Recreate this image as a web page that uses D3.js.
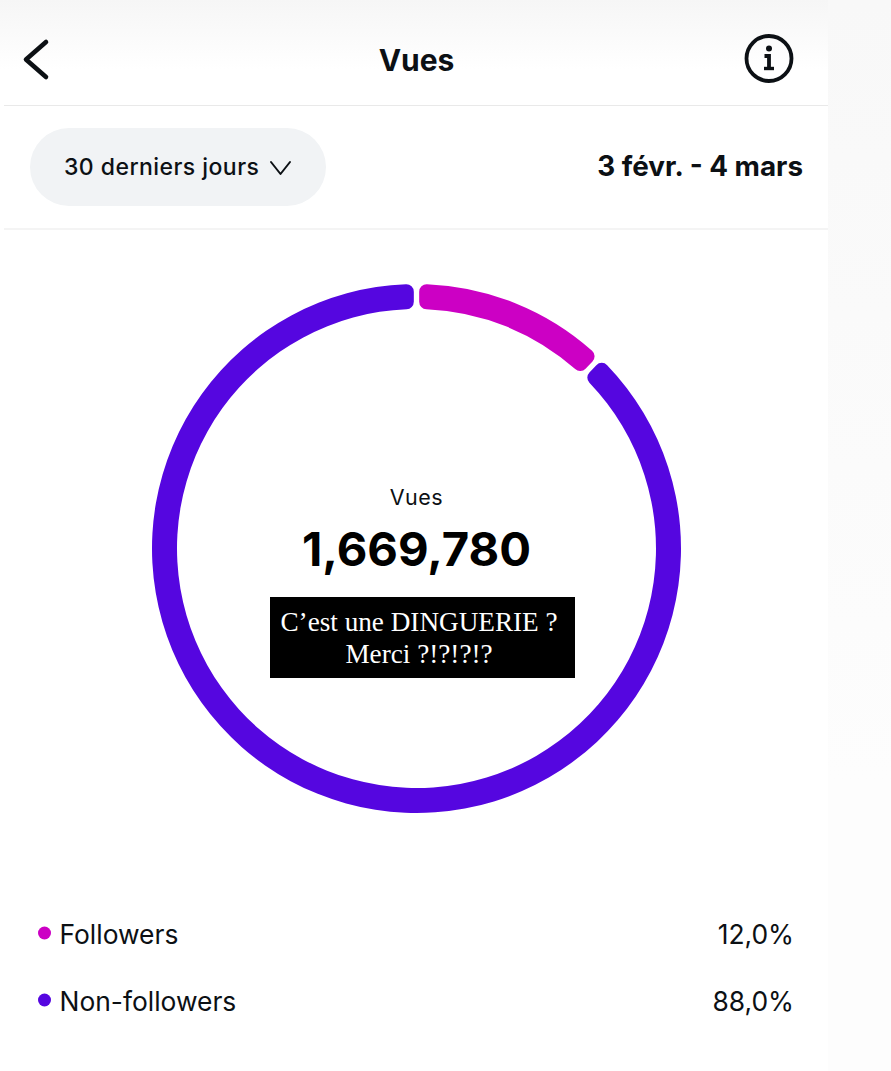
<!DOCTYPE html>
<html>
<head>
<meta charset="utf-8">
<script src="https://cdn.jsdelivr.net/npm/d3@7"></script>
<style>
  html, body { margin: 0; padding: 0; background: #fff; overflow: hidden; }
  svg { display: block; }
  text { font-family: Inter, "Noto Sans", sans-serif; fill: #0c1014; }
</style>
</head>
<body>
<svg id="chart" width="891" height="1071"></svg>
<script>
const categories = ["Followers", "Non-followers"];
const shares = [12.0, 88.0];
const shareLabels = ["12,0%", "88,0%"];
const colours = ["#cc00c4", "#5506e0"];
const total = "1,669,780";
const w = 891, h = 1071;
const cx = 416.5, cy = 548.5;

const svg = d3.select("#chart");

// page background, screenshot has a faint grey band on the right and a fade at the top
const defs = svg.append("defs");
const fade = defs.append("linearGradient").attr("id", "topfade")
    .attr("x1", 0).attr("y1", 0).attr("x2", 0).attr("y2", 1);
fade.append("stop").attr("offset", 0).attr("stop-color", "#f6f6f6");
fade.append("stop").attr("offset", 1).attr("stop-color", "#ffffff");
const band = defs.append("linearGradient").attr("id", "sideband")
    .attr("x1", 0).attr("y1", 0).attr("x2", 0).attr("y2", 1);
band.append("stop").attr("offset", 0).attr("stop-color", "#f8f8f8");
band.append("stop").attr("offset", 1).attr("stop-color", "#fdfdfd");

svg.append("rect").attr("width", w).attr("height", h).attr("fill", "#fff");
svg.append("rect").attr("x", 828).attr("width", w - 828).attr("height", 780).attr("fill", "url(#sideband)");
svg.append("rect").attr("x", 828).attr("y", 780).attr("width", w - 828).attr("height", h - 780).attr("fill", "#fdfdfd");
svg.append("rect").attr("width", 828).attr("height", 70).attr("fill", "url(#topfade)");

// header
svg.append("path")
    .attr("d", d3.line()([[46, 42], [26, 59.5], [46, 77]]))
    .attr("fill", "none").attr("stroke", "#0c1014")
    .attr("stroke-width", 4.6).attr("stroke-linecap", "round").attr("stroke-linejoin", "round");

svg.append("text").attr("x", 416.5).attr("y", 71)
    .attr("text-anchor", "middle")
    .attr("font-size", 30).attr("font-weight", 700)
    .text("Vues");

// info icon
svg.append("circle").attr("cx", 769).attr("cy", 58.5).attr("r", 22.5)
    .attr("fill", "none").attr("stroke", "#0c1014").attr("stroke-width", 3.8);
svg.append("circle").attr("cx", 769).attr("cy", 48.5).attr("r", 3)
    .attr("fill", "#0c1014");
svg.append("path")
    .attr("d", d3.line()([[764.5, 56], [769, 56], [769, 68.5]]))
    .attr("fill", "none").attr("stroke", "#0c1014").attr("stroke-width", 3.8);
svg.append("path")
    .attr("d", d3.line()([[764, 68.5], [774, 68.5]]))
    .attr("fill", "none").attr("stroke", "#0c1014").attr("stroke-width", 3.4);

svg.append("line").attr("x1", 4).attr("x2", 828).attr("y1", 105.5).attr("y2", 105.5)
    .attr("stroke", "#e9e9e9");
svg.append("line").attr("x1", 4).attr("x2", 828).attr("y1", 229).attr("y2", 229)
    .attr("stroke", "#e9e9e9");

// period selector
svg.append("rect").attr("x", 30).attr("y", 128).attr("width", 296).attr("height", 78)
    .attr("rx", 39).attr("fill", "#f1f3f5");
svg.append("text").attr("x", 64).attr("y", 175)
    .attr("font-size", 23).attr("font-weight", 500)
    .attr("letter-spacing", 0.45)
    .text("30 derniers jours");
svg.append("path")
    .attr("d", d3.line()([[271, 162], [280.5, 174], [290, 162]]))
    .attr("fill", "none").attr("stroke", "#0c1014")
    .attr("stroke-width", 2).attr("stroke-linecap", "round").attr("stroke-linejoin", "round");
svg.append("text").attr("x", 803).attr("y", 176)
    .attr("text-anchor", "end")
    .attr("font-size", 27.8).attr("font-weight", 700)
    .text("3 févr. - 4 mars");

// ring
const pie = d3.pie().sort(null).padAngle(0.015);
const arc = d3.arc().innerRadius(239.5).outerRadius(264.5).cornerRadius(7.5);

svg.append("g").attr("transform", `translate(${cx},${cy})`)
  .selectAll("path")
  .data(pie(shares))
  .join("path")
    .attr("d", arc)
    .attr("fill", (d, i) => colours[i]);

// centre labels
svg.append("text").attr("x", 416.5).attr("y", 505)
    .attr("text-anchor", "middle")
    .attr("font-size", 21.5).attr("font-weight", 400)
    .attr("letter-spacing", 0.5)
    .text("Vues");
svg.append("text").attr("x", 416.5).attr("y", 566)
    .attr("text-anchor", "middle")
    .attr("font-size", 47.2).attr("font-weight", 700)
    .style("fill", "#000")
    .text(total);

// black sticker over the screenshot
svg.append("rect").attr("x", 270).attr("y", 597).attr("width", 305).attr("height", 81)
    .attr("fill", "#000");
svg.selectAll(".note")
  .data(["C’est une DINGUERIE ?", "Merci ?!?!?!?"])
  .join("text")
    .attr("class", "note")
    .attr("x", 419)
    .attr("y", (d, i) => 631 + i * 32)
    .attr("text-anchor", "middle")
    .style("font-family", "'Liberation Serif', serif")
    .style("fill", "#fff")
    .attr("font-size", 27.2)
    .text(d => d);

// legend
const rowY = d3.scalePoint().domain(categories).range([933, 1000]);

svg.selectAll(".dot")
  .data(categories)
  .join("circle")
    .attr("class", "dot")
    .attr("cx", 44.5)
    .attr("cy", d => rowY(d))
    .attr("r", 6.5)
    .attr("fill", (d, i) => colours[i]);
svg.selectAll(".cat")
  .data(categories)
  .join("text")
    .attr("class", "cat")
    .attr("x", 59.5)
    .attr("y", d => rowY(d) + 11)
    .attr("font-size", 26.4)
    .text(d => d);
svg.selectAll(".pct")
  .data(shareLabels)
  .join("text")
    .attr("class", "pct")
    .attr("x", 794)
    .attr("y", (d, i) => rowY(categories[i]) + 11)
    .attr("text-anchor", "end")
    .attr("font-size", 26.4)
    .text(d => d);
</script>
</body>
</html>
